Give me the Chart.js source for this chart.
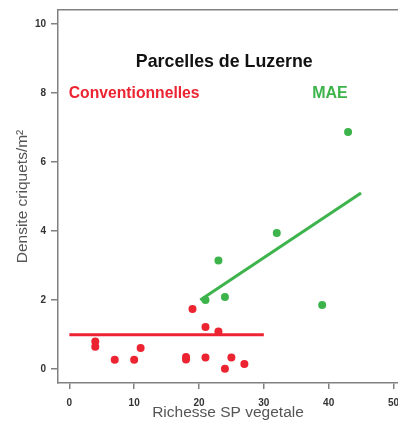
<!DOCTYPE html>
<html>
<head>
<meta charset="utf-8">
<script src="https://cdn.jsdelivr.net/npm/chart.js@4.4.1/dist/chart.umd.min.js"></script>
<style>
  html, body { margin: 0; padding: 0; background: #ffffff; }
  #c { display: block; }
</style>
</head>
<body>
<canvas id="c" width="398" height="422"></canvas>
<script>
// ---- data ----
const convX = [4, 4, 7, 10, 11, 18, 18, 19, 21, 21, 23, 24, 25, 27];
const convY = [0.80, 0.65, 0.27, 0.27, 0.61, 0.35, 0.28, 1.74, 1.22, 0.34, 1.09, 0.01, 0.34, 0.15];
const maeX = [21, 23, 24, 32, 39, 43];
const maeY = [2.00, 3.15, 2.09, 3.94, 1.86, 6.87];
const convFitX = [0, 30];
const convFitY = [1.0, 1.0];
const maeFitX = [20.2, 45];
const maeFitY = [2.0, 5.1];
const xTicks = [0, 10, 20, 30, 40, 50];
const yTicks = [0, 2, 4, 6, 8, 10];
const labelTexts = ['Parcelles de Luzerne', 'Conventionnelles', 'MAE'];
const labelX = [23.9, 10.0, 40.2];
const labelY = [8.9, 7.98, 7.98];

const RED = '#ec2330';
const GREEN = '#3db44b';
const AXIS = '#808080';
const pts = (xs, ys) => xs.map((x, i) => ({ x: x, y: ys[i] }));

const textPlugin = {
  id: 'plotText',
  afterDatasetsDraw(chart) {
    const { ctx, scales } = chart;
    const styles = [
      { color: '#111111', font: 'bold 17.8px "Liberation Sans", Arial, sans-serif' },
      { color: RED, font: 'bold 15.7px "Liberation Sans", Arial, sans-serif' },
      { color: GREEN, font: 'bold 16px "Liberation Sans", Arial, sans-serif' }
    ];
    ctx.save();
    ctx.textAlign = 'center';
    ctx.textBaseline = 'middle';
    labelTexts.forEach((t, i) => {
      ctx.fillStyle = styles[i].color;
      ctx.font = styles[i].font;
      ctx.fillText(t, scales.x.getPixelForValue(labelX[i]), scales.y.getPixelForValue(labelY[i]));
    });
    ctx.restore();
  }
};

new Chart(document.getElementById('c'), {
  type: 'scatter',
  data: {
    datasets: [
      { label: 'Conventionnelles fit', type: 'line', data: pts(convFitX, convFitY),
        borderColor: RED, borderWidth: 3, pointRadius: 0, fill: false, order: 2 },
      { label: 'MAE fit', type: 'line', data: pts(maeFitX, maeFitY),
        borderColor: GREEN, borderWidth: 3, pointRadius: 0, fill: false, order: 2 },
      { label: 'Conventionnelles', data: pts(convX, convY),
        backgroundColor: RED, borderWidth: 0, pointRadius: 4, order: 1 },
      { label: 'MAE', data: pts(maeX, maeY),
        backgroundColor: GREEN, borderWidth: 0, pointRadius: 4, order: 1 }
    ]
  },
  options: {
    responsive: false,
    animation: false,
    devicePixelRatio: 1,
    layout: { padding: 0, autoPadding: false },
    plugins: { legend: { display: false }, tooltip: { enabled: false }, title: { display: false } },
    scales: {
      x: {
        type: 'linear', position: 'bottom', min: -1.75, max: 50.7,
        afterBuildTicks: s => { s.ticks = xTicks.map(v => ({ value: v })); },
        afterFit: s => { s.height = 39; s.paddingLeft = 0; s.paddingRight = 0; },
        grid: { drawOnChartArea: false, drawTicks: true, tickLength: 6, color: AXIS, lineWidth: 1.5 },
        border: { display: true, color: AXIS, width: 1.5 },
        ticks: { color: '#333', padding: 8, maxRotation: 0, autoSkip: false,
                 font: { family: '"Liberation Sans", Arial, sans-serif', size: 10, weight: 'bold' } },
        title: { display: true, text: 'Richesse SP vegetale', color: '#555',
                 font: { family: '"Liberation Sans", Arial, sans-serif', size: 15.5 },
                 padding: { top: 0, bottom: 0 } }
      },
      x2: {
        type: 'linear', position: 'top', min: 0, max: 1,
        afterFit: s => { s.height = 10; s.paddingLeft = 0; s.paddingRight = 0; },
        grid: { display: false, drawTicks: false },
        border: { display: true, color: AXIS, width: 1.5 },
        ticks: { display: false }
      },
      y: {
        type: 'linear', position: 'left', min: -0.4, max: 10.4,
        afterBuildTicks: s => { s.ticks = yTicks.map(v => ({ value: v })); },
        afterFit: s => { s.width = 58; s.paddingTop = 0; s.paddingBottom = 0; },
        grid: { drawOnChartArea: false, drawTicks: true, tickLength: 7, color: AXIS, lineWidth: 1.5 },
        border: { display: true, color: AXIS, width: 1.5 },
        ticks: { color: '#333', padding: 5, autoSkip: false,
                 font: { family: '"Liberation Sans", Arial, sans-serif', size: 10, weight: 'bold' } },
        title: { display: true, text: 'Densite criquets/m²', color: '#555',
                 font: { family: '"Liberation Sans", Arial, sans-serif', size: 15.5 },
                 padding: { top: 13, bottom: 0 } }
      }
    }
  },
  plugins: [textPlugin]
});
</script>
</body>
</html>
